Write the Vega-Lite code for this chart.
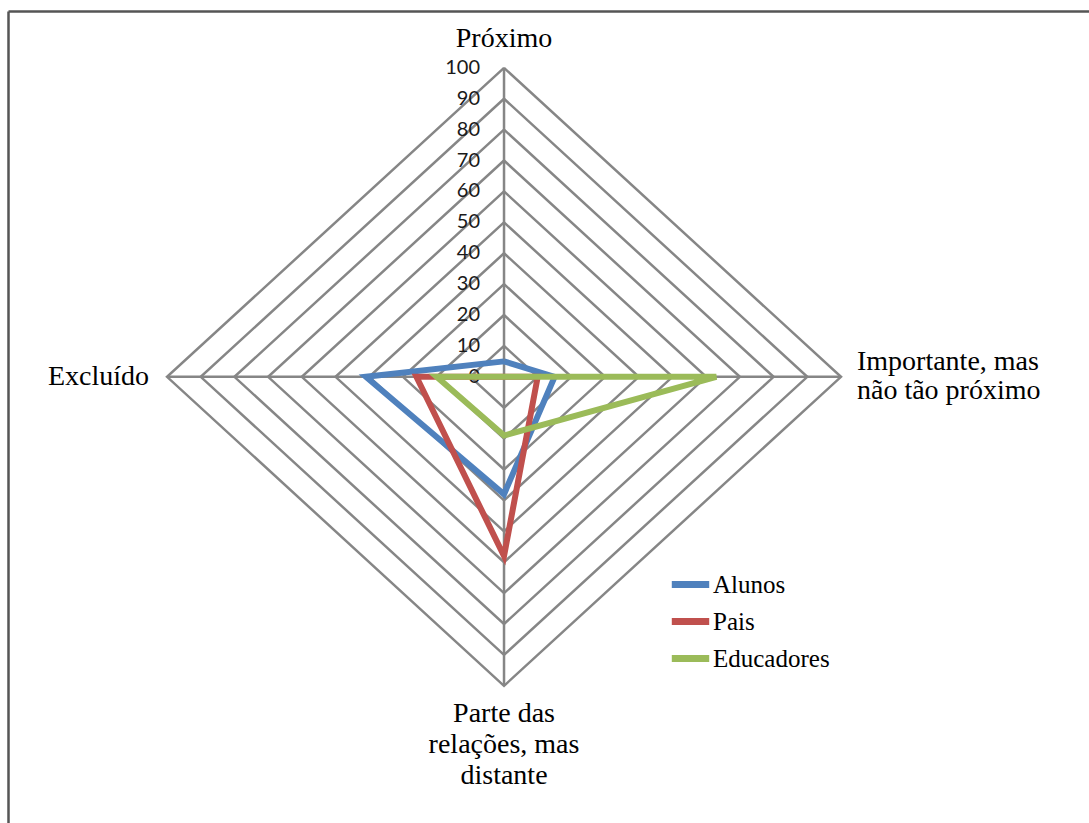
{
  "$schema": "https://vega.github.io/schema/vega-lite/v6.json",
  "width": 1081,
  "height": 812,
  "autosize": "none",
  "padding": {"left": 8, "top": 11, "right": 0, "bottom": 0},
  "background": "white",
  "config": {"view": {"stroke": null}},
  "datasets": {
    "grid": [
      {"level": 10, "k": 0}, {"level": 10, "k": 1}, {"level": 10, "k": 2}, {"level": 10, "k": 3}, {"level": 10, "k": 4},
      {"level": 20, "k": 0}, {"level": 20, "k": 1}, {"level": 20, "k": 2}, {"level": 20, "k": 3}, {"level": 20, "k": 4},
      {"level": 30, "k": 0}, {"level": 30, "k": 1}, {"level": 30, "k": 2}, {"level": 30, "k": 3}, {"level": 30, "k": 4},
      {"level": 40, "k": 0}, {"level": 40, "k": 1}, {"level": 40, "k": 2}, {"level": 40, "k": 3}, {"level": 40, "k": 4},
      {"level": 50, "k": 0}, {"level": 50, "k": 1}, {"level": 50, "k": 2}, {"level": 50, "k": 3}, {"level": 50, "k": 4},
      {"level": 60, "k": 0}, {"level": 60, "k": 1}, {"level": 60, "k": 2}, {"level": 60, "k": 3}, {"level": 60, "k": 4},
      {"level": 70, "k": 0}, {"level": 70, "k": 1}, {"level": 70, "k": 2}, {"level": 70, "k": 3}, {"level": 70, "k": 4},
      {"level": 80, "k": 0}, {"level": 80, "k": 1}, {"level": 80, "k": 2}, {"level": 80, "k": 3}, {"level": 80, "k": 4},
      {"level": 90, "k": 0}, {"level": 90, "k": 1}, {"level": 90, "k": 2}, {"level": 90, "k": 3}, {"level": 90, "k": 4},
      {"level": 100, "k": 0}, {"level": 100, "k": 1}, {"level": 100, "k": 2}, {"level": 100, "k": 3}, {"level": 100, "k": 4}
    ],
    "ticks": [
      {"level": 0}, {"level": 10}, {"level": 20}, {"level": 30}, {"level": 40}, {"level": 50},
      {"level": 60}, {"level": 70}, {"level": 80}, {"level": 90}, {"level": 100}
    ],
    "series": [
      {"serie": "Alunos", "k": 0, "eixo": "Próximo", "valor": 5},
      {"serie": "Alunos", "k": 1, "eixo": "Importante, mas não tão próximo", "valor": 15},
      {"serie": "Alunos", "k": 2, "eixo": "Parte das relações, mas distante", "valor": 38},
      {"serie": "Alunos", "k": 3, "eixo": "Excluído", "valor": 41},
      {"serie": "Alunos", "k": 4, "eixo": "Próximo", "valor": 5},
      {"serie": "Pais", "k": 0, "eixo": "Próximo", "valor": 0},
      {"serie": "Pais", "k": 1, "eixo": "Importante, mas não tão próximo", "valor": 10},
      {"serie": "Pais", "k": 2, "eixo": "Parte das relações, mas distante", "valor": 58},
      {"serie": "Pais", "k": 3, "eixo": "Excluído", "valor": 26},
      {"serie": "Pais", "k": 4, "eixo": "Próximo", "valor": 0},
      {"serie": "Educadores", "k": 0, "eixo": "Próximo", "valor": 0},
      {"serie": "Educadores", "k": 1, "eixo": "Importante, mas não tão próximo", "valor": 63},
      {"serie": "Educadores", "k": 2, "eixo": "Parte das relações, mas distante", "valor": 19},
      {"serie": "Educadores", "k": 3, "eixo": "Excluído", "valor": 20},
      {"serie": "Educadores", "k": 4, "eixo": "Próximo", "valor": 0}
    ]
  },
  "layer": [
    {
      "data": {"name": "grid"},
      "transform": [
        {"calculate": "datum.k == 1 ? datum.level : (datum.k == 3 ? -datum.level : 0)", "as": "x"},
        {"calculate": "(datum.k == 0 || datum.k == 4) ? datum.level : (datum.k == 2 ? -datum.level : 0)", "as": "y"}
      ],
      "mark": {"type": "line", "stroke": "#868686", "strokeWidth": 2.5},
      "encoding": {
        "x": {
          "field": "x", "type": "quantitative",
          "scale": {"domain": [-147.2, 173.6], "nice": false, "zero": false},
          "axis": {"orient": "top", "domain": true, "domainColor": "#555555", "domainWidth": 2.5, "ticks": false, "labels": false, "grid": false, "title": null}
        },
        "y": {
          "field": "y", "type": "quantitative",
          "scale": {"domain": [-144.4, 118.4], "nice": false, "zero": false},
          "axis": {"orient": "left", "domain": true, "domainColor": "#555555", "domainWidth": 2.5, "ticks": false, "labels": false, "grid": false, "title": null}
        },
        "detail": {"field": "level", "type": "nominal"},
        "order": {"field": "k", "type": "quantitative"}
      }
    },
    {
      "data": {"name": "grid"},
      "transform": [
        {"filter": "datum.level == 100 && datum.k < 4"},
        {"calculate": "datum.k == 1 ? datum.level : (datum.k == 3 ? -datum.level : 0)", "as": "x"},
        {"calculate": "datum.k == 0 ? datum.level : (datum.k == 2 ? -datum.level : 0)", "as": "y"}
      ],
      "mark": {"type": "rule", "stroke": "#868686", "strokeWidth": 2.5},
      "encoding": {
        "x": {"field": "x", "type": "quantitative"},
        "y": {"field": "y", "type": "quantitative"},
        "x2": {"datum": 0},
        "y2": {"datum": 0}
      }
    },
    {
      "data": {"name": "ticks"},
      "mark": {"type": "text", "align": "right", "baseline": "middle", "dx": -24, "font": "Lato", "fontSize": 20, "fill": "#1a1a1a"},
      "encoding": {
        "x": {"datum": 0, "type": "quantitative"},
        "y": {"field": "level", "type": "quantitative"},
        "text": {"field": "level", "type": "quantitative"}
      }
    },
    {
      "data": {"name": "series"},
      "transform": [
        {"calculate": "datum.k == 1 ? datum.valor : (datum.k == 3 ? -datum.valor : 0)", "as": "x"},
        {"calculate": "(datum.k == 0 || datum.k == 4) ? datum.valor : (datum.k == 2 ? -datum.valor : 0)", "as": "y"}
      ],
      "mark": {"type": "line", "strokeWidth": 6},
      "encoding": {
        "x": {"field": "x", "type": "quantitative"},
        "y": {"field": "y", "type": "quantitative"},
        "order": {"field": "k", "type": "quantitative"},
        "color": {
          "field": "serie", "type": "nominal",
          "scale": {"domain": ["Alunos", "Pais", "Educadores"], "range": ["#4F81BD", "#C0504D", "#9BBB59"]},
          "legend": {
            "orient": "none", "legendX": 660, "legendY": 551, "title": null,
            "symbolType": "stroke", "symbolStrokeWidth": 7, "symbolSize": 1400,
            "labelFont": "Liberation Serif", "labelFontSize": 25, "labelColor": "black",
            "labelOffset": 0, "rowPadding": -3, "padding": 0, "labelLimit": 400
          }
        }
      }
    },
    {
      "data": {"values": [{"label": "Próximo"}]},
      "mark": {"type": "text", "align": "center", "baseline": "alphabetic", "dy": -21, "font": "Liberation Serif", "fontSize": 28, "fill": "black"},
      "encoding": {"x": {"datum": 0, "type": "quantitative"}, "y": {"datum": 100, "type": "quantitative"}, "text": {"field": "label"}}
    },
    {
      "data": {"values": [{"label": "Excluído"}]},
      "mark": {"type": "text", "align": "right", "baseline": "alphabetic", "dx": -18, "dy": 8, "font": "Liberation Serif", "fontSize": 28, "fill": "black"},
      "encoding": {"x": {"datum": -100, "type": "quantitative"}, "y": {"datum": 0, "type": "quantitative"}, "text": {"field": "label"}}
    },
    {
      "data": {"values": [{"label": "Importante, mas\nnão tão próximo"}]},
      "mark": {"type": "text", "align": "left", "baseline": "alphabetic", "dx": 16, "dy": -7, "lineBreak": "\n", "lineHeight": 29, "font": "Liberation Serif", "fontSize": 28, "fill": "black"},
      "encoding": {"x": {"datum": 100, "type": "quantitative"}, "y": {"datum": 0, "type": "quantitative"}, "text": {"field": "label"}}
    },
    {
      "data": {"values": [{"label": "Parte das\nrelações, mas\ndistante"}]},
      "mark": {"type": "text", "align": "center", "baseline": "alphabetic", "dy": 36, "lineBreak": "\n", "lineHeight": 31, "font": "Liberation Serif", "fontSize": 28, "fill": "black"},
      "encoding": {"x": {"datum": 0, "type": "quantitative"}, "y": {"datum": -100, "type": "quantitative"}, "text": {"field": "label"}}
    }
  ]
}
